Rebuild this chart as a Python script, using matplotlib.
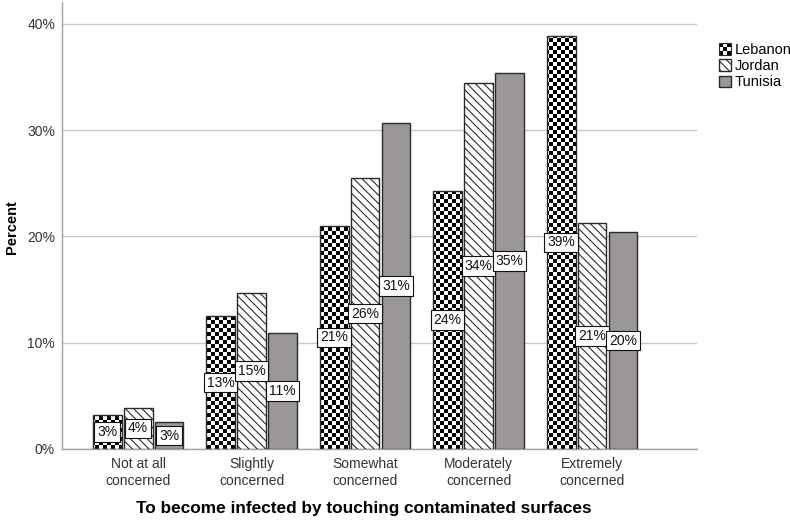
import numpy as np
import matplotlib.pyplot as plt
from matplotlib.patches import Rectangle, Patch
from matplotlib.legend_handler import HandlerBase

# Daten
categories = ['Not at all\nconcerned', 'Slightly\nconcerned', 'Somewhat\nconcerned',
              'Moderately\nconcerned', 'Extremely\nconcerned']
countries = ['Lebanon', 'Jordan', 'Tunisia']
lebanon = [3.2, 12.5, 21.0, 24.3, 38.9]
jordan = [3.9, 14.7, 25.5, 34.4, 21.3]
tunisia = [2.5, 10.9, 30.7, 35.4, 20.4]
yticks = [0, 10, 20, 30, 40]

plt.rcParams['font.family'] = ['Liberation Sans', 'DejaVu Sans']
plt.rcParams['hatch.linewidth'] = 0.8

W, H = 790, 521
fig = plt.figure(figsize=(W / 100, H / 100), dpi=100)
ax = fig.add_axes([62 / W, 1 - 449 / H, 635 / W, 447 / H])

xlim = (-0.67, 4.925)
ylim = (0, 42.07)

x = np.arange(len(categories))
step = 0.273
width = 0.255
edge = '#2b2b2b'

# Lebanon: Schachbrett per Bild, auf die Balken beschnitten
bars_leb = ax.bar(x - step, lebanon, width, facecolor='none', edgecolor=edge, lw=1, zorder=3)
nx, ny = 635 // 4, 447 // 4
checker = np.add.outer(np.arange(ny), np.arange(nx)) % 2
for b in bars_leb:
    im = ax.imshow(checker, cmap='gray', extent=(xlim[0], xlim[1], ylim[0], ylim[1]),
                   aspect='auto', interpolation='nearest', zorder=2)
    im.set_clip_path(b)

bars_jor = ax.bar(x, jordan, width, facecolor='white', edgecolor=edge, hatch='\\\\\\\\',
                  lw=1, zorder=3)
bars_tun = ax.bar(x + step, tunisia, width, facecolor='#9c9797', edgecolor=edge, lw=1, zorder=3)

# Wertebeschriftungen
for vals, off in zip([lebanon, jordan, tunisia], [-step, 0, step]):
    for xi, v in zip(x, vals):
        ax.text(xi + off, v / 2, f'{int(v + 0.5)}%', ha='center', va='center', fontsize=10,
                color='#111', zorder=5,
                bbox=dict(boxstyle='square,pad=0.2', fc='white', ec='#111', lw=0.8))

ax.set_xlim(*xlim)
ax.set_ylim(*ylim)
ax.set_xticks(x)
ax.set_xticklabels(categories)
ax.set_yticks(yticks)
ax.set_yticklabels([f'{t}%' for t in yticks])
ax.tick_params(length=0, labelsize=10, colors='#333333')
ax.tick_params(axis='y', pad=5)
ax.tick_params(axis='x', pad=6)
ax.grid(axis='y', color='#c8c8c8', lw=1, zorder=0)
ax.set_axisbelow(True)
for s in ['top', 'right']:
    ax.spines[s].set_visible(False)
for s in ['left', 'bottom']:
    ax.spines[s].set_color('#a0a0a0')
    ax.spines[s].set_linewidth(1)

ax.set_xlabel('To become infected by touching contaminated surfaces', fontsize=12.4,
              fontweight='bold')
ax.xaxis.set_label_coords(0.475, -0.132)
ax.xaxis.label.set_va('center')
ax.set_ylabel('Percent', fontsize=10.5, fontweight='bold')
ax.yaxis.set_label_coords(-0.0787, 0.497)
ax.yaxis.label.set_va('center')


class CheckerHandler(HandlerBase):
    def create_artists(self, legend, orig_handle, xdescent, ydescent, width, height,
                       fontsize, trans):
        n = 3
        size = min(width, height)
        cw = size / n
        arts = []
        for i in range(n):
            for j in range(n):
                fc = 'black' if (i + j) % 2 == 0 else 'white'
                arts.append(Rectangle((-xdescent + i * cw, -ydescent + j * cw), cw, cw,
                                      fc=fc, ec='none', transform=trans))
        arts.append(Rectangle((-xdescent, -ydescent), size, size, fc='none', ec=edge,
                              lw=0.8, transform=trans))
        return arts


h_leb = Patch(facecolor='white', edgecolor=edge)
h_jor = Patch(facecolor='white', edgecolor=edge, hatch='\\\\\\\\')
h_tun = Patch(facecolor='#9c9797', edgecolor=edge)
fig.legend([h_leb, h_jor, h_tun], countries, loc='upper left',
           bbox_to_anchor=(719 / W, 1 - 43 / H), frameon=False, fontsize=10.5,
           handlelength=0.85, handleheight=0.85, handletextpad=0.2, labelspacing=0.15,
           borderaxespad=0, borderpad=0, handler_map={h_leb: CheckerHandler()})

fig.savefig('out.png', dpi=100)
